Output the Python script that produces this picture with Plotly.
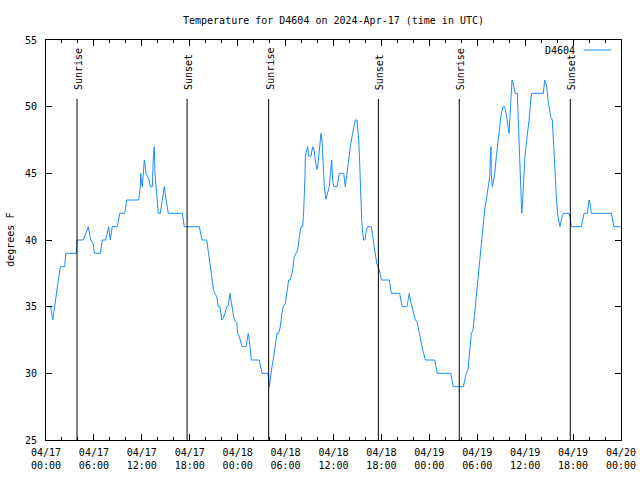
import pandas as pd
import plotly.graph_objects as go

# ---- data (hours since 2024-04-17 00:00 UTC, temperature in deg F) ----
hours = [
    0.09, 0.59, 0.84, 1.79, 2.34, 2.47, 3.79, 3.92, 4.67, 5.17, 5.30, 5.60, 5.92, 6.05,
    6.80, 7.05, 7.47, 7.85, 8.05, 8.30, 8.93, 9.23, 9.85, 10.11, 11.61, 11.81, 11.86,
    11.93, 12.06, 12.23, 12.31, 12.40, 12.52, 12.69, 12.90, 13.06, 13.31, 13.44, 13.56,
    13.65, 13.90, 14.02, 14.06, 14.31, 14.49, 14.69, 14.81, 14.94, 15.11, 15.31, 17.07,
    17.19, 17.32, 19.20, 19.37, 19.53, 20.12, 20.32, 20.54, 20.75, 20.95, 21.12, 21.38,
    21.58, 21.79, 22.00, 22.20, 22.41, 22.63, 22.83, 23.04, 23.13, 23.33, 23.58, 23.88,
    24.00, 24.21, 24.54, 25.04, 25.26, 25.33, 25.46, 25.67, 25.71, 26.71, 26.92, 27.05,
    27.76, 27.84, 27.96, 28.09, 28.30, 28.51, 28.71, 28.93, 29.14, 29.34, 29.55, 29.72,
    29.97, 30.18, 30.39, 30.59, 30.89, 31.09, 31.31, 31.52, 31.72, 31.93, 32.14, 32.27,
    32.43, 32.47, 32.64, 32.77, 32.89, 33.18, 33.40, 33.56, 33.72, 33.90, 34.02, 34.22,
    34.44, 34.56, 34.72, 34.85, 35.06, 35.27, 35.47, 35.69, 35.77, 35.90, 36.02, 36.44,
    36.73, 37.28, 37.48, 37.69, 37.90, 38.11, 38.32, 38.53, 38.73, 38.94, 39.16, 39.28,
    39.41, 39.53, 39.66, 39.78, 39.95, 40.11, 40.28, 40.73, 40.91, 41.07, 41.24, 41.41,
    41.57, 41.74, 41.91, 41.99, 42.99, 43.11, 43.24, 44.29, 44.45, 44.58, 45.20, 45.37,
    45.49, 45.62, 45.83, 46.04, 46.24, 46.46, 46.67, 46.79, 47.00, 47.17, 47.30, 47.50,
    48.67, 48.84, 49.00, 50.68, 50.84, 51.00, 52.26, 52.43, 52.63, 52.84, 53.06, 53.26,
    53.47, 53.68, 53.88, 54.10, 54.31, 54.51, 54.72, 54.93, 55.14, 55.35, 55.56, 55.64,
    55.73, 55.76, 55.89, 56.06, 56.19, 56.39, 56.60, 56.81, 57.01, 57.23, 57.44, 57.64,
    57.85, 57.98, 58.10, 58.19, 58.35, 58.48, 58.60, 58.77, 59.02, 59.10, 59.23, 59.35,
    59.48, 59.57, 59.69, 59.82, 59.94, 60.14, 60.36, 60.49, 60.70, 60.82, 62.27, 62.45,
    62.58, 62.70, 62.86, 63.08, 63.20, 63.40, 63.53, 63.70, 63.83, 63.95, 64.11, 64.24,
    64.36, 64.53, 64.78, 65.49, 65.62, 65.78, 67.03, 67.21, 67.37, 67.79, 68.00, 68.12,
    68.28, 70.79, 70.95, 71.12, 72.00,
]
temps = [
    35, 35, 34, 38, 38, 39, 39, 40, 40, 40.8, 41, 40, 39.7, 39,
    39, 40, 40, 41, 40, 41, 41, 42, 42, 43, 43, 44, 45,
    44.5, 44, 45.5, 46, 45.7, 45, 44.8, 44.5, 44, 44, 46.25, 47,
    45, 43.5, 42.5, 42, 42, 42.75, 43.75, 44, 43.4, 42.75, 42, 42,
    41.5, 41, 41, 40.5, 40, 40, 39.25, 38.25, 37.25, 36.3, 36, 35.75,
    35, 35, 34, 34.1, 34.5, 35, 35.1, 36, 35.6, 34.75, 34, 33.8,
    33, 32.75, 32, 32, 32.75, 33, 32.5, 31.5, 31, 31, 30.25, 30,
    30, 29.75, 29, 29.75, 30.5, 31.25, 32.25, 33, 33, 33.5, 34.5, 35,
    35.25, 36, 37, 37, 37.75, 38.75, 39, 39.25, 40.25, 41, 41, 42.25,
    44.75, 46.25, 46.75, 47, 46.3, 46.3, 47, 46.75, 46, 45.3, 45.5, 47,
    48, 47.5, 45.5, 44, 43.05, 43.5, 44, 45.5, 46, 44.5, 44, 44,
    45, 45, 44, 45, 46.25, 47, 47.75, 48.5, 49, 49, 47.5, 45.75,
    43.25, 41.5, 40.5, 40, 40, 40.75, 41, 41, 40.25, 39.5, 38.75, 38.25,
    38, 37.75, 37.25, 37, 37, 36.5, 36, 36, 35.5, 35, 35, 35.6,
    36, 35.5, 35, 34.5, 34, 33.9, 33.25, 32.75, 32, 31.75, 31.5, 31,
    31, 30.5, 30, 30, 29.5, 29, 29, 29.5, 30, 30.25, 31.5, 33,
    33.25, 34.5, 35.75, 37.5, 38.75, 40, 41.25, 42.25, 43, 43.75, 44.75, 46.25,
    47, 45, 44, 44.5, 45, 46.25, 47.5, 48.75, 49.5, 50, 50, 49.4,
    48.25, 48, 49.25, 50.5, 52, 51.75, 51.5, 51, 51, 49.75, 47.25, 45,
    43, 42, 43, 44.75, 46, 47.25, 48.25, 49, 50.5, 51, 51, 52,
    51.75, 51.5, 50.5, 49.75, 49.25, 49, 47.25, 46, 44, 42.75, 41.75, 41.25,
    41, 41.5, 42, 42, 41.75, 41, 41, 41.5, 42, 42, 43, 42.75,
    42, 42, 41.5, 41, 41,
]
sunrise_times = ["2024-04-17 03:53", "2024-04-18 03:53", "2024-04-19 03:45"]
sunset_times = ["2024-04-17 17:40", "2024-04-18 17:37", "2024-04-19 17:39"]
tick_times = pd.date_range("2024-04-17 00:00", "2024-04-20 00:00", freq="6h")
tick_labels = [t.strftime("%m/%d<br>%H:%M") for t in tick_times]
y_ticks = [25, 30, 35, 40, 45, 50, 55]
series_name = "D4604"
title_text = "Temperature for D4604 on 2024-Apr-17 (time in UTC)"

base = pd.Timestamp("2024-04-17 00:00")
times = base + pd.to_timedelta(hours, unit="h")

FONT = "DejaVu Sans Mono"
LINE_COLOR = "#1a8cff"

fig = go.Figure()
fig.add_trace(go.Scatter(x=times, y=temps, mode="lines",
                         line=dict(color=LINE_COLOR, width=1),
                         name=series_name, showlegend=False))

# sunrise / sunset markers
for kind, tlist in (("Sunrise", sunrise_times), ("Sunset", sunset_times)):
    for t in tlist:
        fig.add_shape(type="line", xref="x", yref="y", x0=t, x1=t, y0=25, y1=50.58,
                      line=dict(color="black", width=1))
        fig.add_annotation(x=t, y=51.1, xref="x", yref="y", text=kind, textangle=-90,
                           showarrow=False, xanchor="center", yanchor="bottom",
                           xshift=1, font=dict(family=FONT, size=10, color="black"))

# legend (gnuplot style: text then sample)
fig.add_annotation(x=0.923, y=0.975, xref="paper", yref="paper", text=series_name,
                   showarrow=False, xanchor="right", yanchor="middle",
                   font=dict(family=FONT, size=10, color="black"))
fig.add_shape(type="line", xref="paper", yref="paper", x0=0.935, x1=0.983,
              y0=0.975, y1=0.975, line=dict(color=LINE_COLOR, width=1))

# y-axis title
fig.add_annotation(x=-0.063, y=0.5, xref="paper", yref="paper", text="degrees F",
                   textangle=-90, showarrow=False, xanchor="center", yanchor="middle",
                   font=dict(family=FONT, size=10, color="black"))

fig.update_layout(
    width=640, height=480,
    margin=dict(l=46, r=19, t=40, b=40, autoexpand=False),
    paper_bgcolor="white", plot_bgcolor="white",
    font=dict(family=FONT, size=10, color="black"),
    title=dict(text=title_text, x=0.5, xref="paper", xanchor="center",
               y=1 - 20 / 480, yanchor="middle", font=dict(family=FONT, size=10)),
    showlegend=False,
)
fig.update_xaxes(
    type="date", range=[tick_times[0], tick_times[-1]],
    tickvals=tick_times, ticktext=tick_labels, automargin=False,
    ticks="inside", ticklen=6, tickcolor="black", tickwidth=1,
    minor=dict(dtick=2 * 3600 * 1000, ticks="inside", ticklen=3,
               tickcolor="black", tickwidth=1, showgrid=False),
    showline=True, linecolor="black", linewidth=1, mirror="allticks",
    showgrid=False, zeroline=False, ticklabelstandoff=3,
)
fig.update_yaxes(
    range=[25, 55], tickvals=y_ticks, automargin=False,
    ticks="inside", ticklen=6, tickcolor="black", tickwidth=1,
    showline=True, linecolor="black", linewidth=1, mirror="allticks",
    showgrid=False, zeroline=False, ticklabelstandoff=6,
)

fig.write_html("out.html", config={"displayModeBar": False},
               post_script="document.body.style.margin='0';document.body.style.padding='0';")
